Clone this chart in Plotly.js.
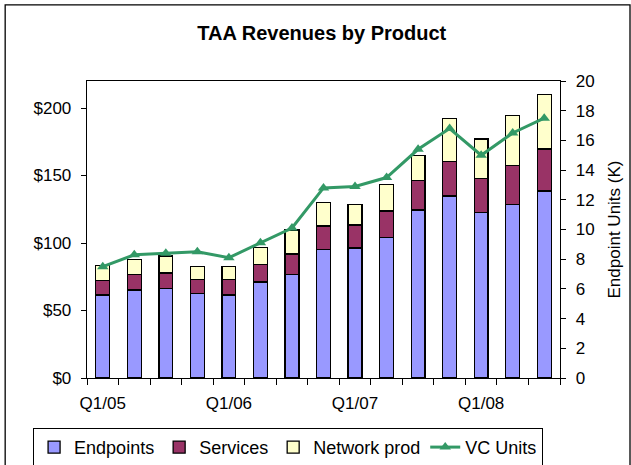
<!DOCTYPE html>
<html>
<head>
<meta charset="utf-8">
<script src="https://cdn.plot.ly/plotly-3.0.1.min.js"></script>
<style>
  body { margin: 0; background: #ffffff; }
  #chart { width: 631px; height: 465px; }
</style>
</head>
<body>
<div id="chart"></div>
<script>
const quarters = ['Q1/05', 'Q2/05', 'Q3/05', 'Q4/05', 'Q1/06', 'Q2/06', 'Q3/06', 'Q4/06',
  'Q1/07', 'Q2/07', 'Q3/07', 'Q4/07', 'Q1/08', 'Q2/08', 'Q3/08'];
const tickLabels = ['Q1/05', '', '', '', 'Q1/06', '', '', '', 'Q1/07', '', '', '', 'Q1/08', '', ''];

// revenue in $M
const endpoints = [61.5, 65.2, 66.2, 62.5, 61.5, 71.1, 76.8, 95.3, 96.3, 103.9, 124.4, 134.8, 122.7, 128.4, 138.5];
const services = [10.5, 11.3, 11.6, 10.6, 11.6, 13.1, 15.1, 17.3, 17.0, 19.8, 21.8, 25.7, 25.2, 29.1, 31.1];
const networkProd = [11.2, 11.4, 12.6, 9.4, 9.4, 12.3, 17.7, 17.5, 15.1, 19.8, 18.7, 31.8, 29.1, 36.8, 40.5];

// endpoint units, thousands
const vcUnits = [7.5, 8.3, 8.4, 8.5, 8.1, 9.1, 10.1, 12.8, 12.9, 13.5, 15.4, 16.8, 15.0, 16.5, 17.5];

const font = '"Liberation Sans", Arial, sans-serif';
const barLine = { color: '#000000', width: 1.3 };

function barTrace(name, values, color) {
  return {
    type: 'bar',
    name: name,
    x: quarters,
    y: values,
    marker: { color: color, line: barLine },
    hoverinfo: 'y+name',
  };
}

const traces = [
  barTrace('Endpoints', endpoints, '#9999ff'),
  barTrace('Services', services, '#993366'),
  barTrace('Network prod', networkProd, '#ffffcc'),
  {
    type: 'scatter',
    mode: 'lines+markers',
    name: 'VC Units',
    x: quarters,
    y: vcUnits,
    yaxis: 'y2',
    line: { color: '#339966', width: 3 },
    marker: { symbol: 'triangle-up', size: 10, color: '#339966' },
  },
];

const layout = {
  width: 631,
  height: 465,
  barmode: 'stack',
  bargap: 0.56,
  showlegend: true,
  font: { family: font, size: 17, color: '#000000' },
  paper_bgcolor: '#ffffff',
  plot_bgcolor: '#ffffff',
  margin: { l: 87, r: 71, t: 81, b: 87, pad: 0, autoexpand: false },
  title: {
    text: '<b>TAA Revenues by Product</b>',
    font: { family: font, size: 20, color: '#000000' },
    x: 0.51,
    xanchor: 'center',
    y: 0.929,
    yanchor: 'middle',
  },
  xaxis: {
    type: 'category',
    tickmode: 'array',
    tickvals: quarters,
    ticktext: tickLabels,
    tickangle: 0,
    tickson: 'boundaries',
    ticks: 'outside',
    ticklen: 6,
    tickcolor: '#000000',
    tickwidth: 1,
    ticklabelstandoff: 9,
    showline: true,
    mirror: true,
    linecolor: '#000000',
    linewidth: 1.3,
    showgrid: false,
    automargin: false,
    range: [-0.5, 14.5],
  },
  yaxis: {
    range: [0, 220],
    dtick: 50,
    tick0: 0,
    tickprefix: '$',
    ticks: 'outside',
    ticklen: 5,
    tickcolor: '#000000',
    ticklabelstandoff: 6,
    showline: true,
    mirror: true,
    linecolor: '#000000',
    linewidth: 1.3,
    showgrid: false,
    zeroline: false,
    automargin: false,
  },
  yaxis2: {
    overlaying: 'y',
    side: 'right',
    range: [0, 20],
    dtick: 2,
    tick0: 0,
    ticks: 'outside',
    ticklen: 5,
    tickcolor: '#000000',
    ticklabelstandoff: 6,
    showline: true,
    linecolor: '#000000',
    linewidth: 1.3,
    showgrid: false,
    zeroline: false,
    automargin: false,
    title: { text: 'Endpoint Units (K)', font: { family: font, size: 17 }, standoff: 14 },
  },
  legend: {
    orientation: 'h',
    x: -0.114,
    xanchor: 'left',
    y: -0.168,
    yanchor: 'top',
    bordercolor: '#000000',
    borderwidth: 1,
    bgcolor: '#ffffff',
    font: { family: font, size: 18 },
    traceorder: 'normal',
    itemwidth: 30,
  },
  shapes: [{
    type: 'rect',
    xref: 'paper',
    yref: 'paper',
    x0: -0.173,
    x1: 1.148,
    y0: -0.35,
    y1: 1.256,
    line: { color: '#000000', width: 1.3 },
    fillcolor: 'rgba(0,0,0,0)',
    layer: 'below',
  }],
};

Plotly.newPlot('chart', traces, layout, { staticPlot: true });
</script>
</body>
</html>
